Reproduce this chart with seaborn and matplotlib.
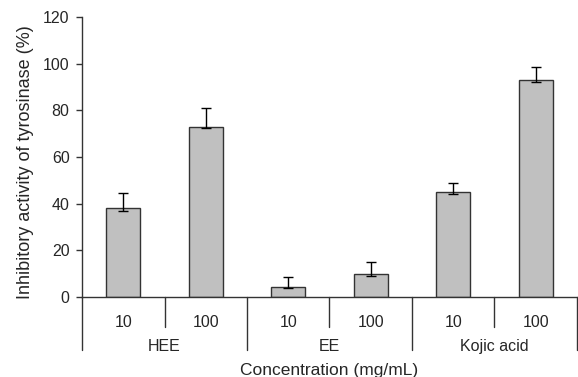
import numpy as np
import pandas as pd
import seaborn as sns
import matplotlib.pyplot as plt
import matplotlib.transforms as mtransforms

groups = ["HEE", "EE", "Kojic acid"]
concentrations = ["10", "100"]
inhibition = [38.0, 73.0, 4.5, 10.0, 45.2, 93.0]
err_upper = [6.6, 8.0, 4.2, 5.2, 3.8, 5.4]
err_lower = [1.1, 0.7, 0.8, 1.0, 1.0, 1.0]

sns.set_theme(style="white")
plt.rcParams['font.family'] = ['Liberation Sans', 'DejaVu Sans']

labels = [f"{g}_{c}" for g in groups for c in concentrations]
df = pd.DataFrame({"label": labels, "value": inhibition})

fig = plt.figure(figsize=(5.78, 3.77), dpi=100)
ax = fig.add_axes([0.142, 0.212, 0.856, 0.743])

line_col = "#333333"
sns.barplot(data=df, x="label", y="value", ax=ax, color="#c0c0c0",
            saturation=1, width=0.41, edgecolor=line_col, linewidth=1)
ax.errorbar(np.arange(len(inhibition)), inhibition,
            yerr=[err_lower, err_upper], fmt="none", ecolor="black",
            elinewidth=1, capsize=3.5, capthick=1)

ax.set_xlim(-0.5, 5.5)
ax.set_ylim(0, 120)
ax.set_yticks(range(0, 121, 20))
ax.tick_params(axis="y", direction="out", length=4, width=1, color=line_col,
               labelsize=11.5, pad=5, left=True)
ax.set_xticks([])
ax.set_xlabel("")
ax.set_ylabel("Inhibitory activity of tyrosinase (%)", fontsize=13)
ax.yaxis.set_label_coords(-0.097, 0.48)
for s in ["top", "right"]:
    ax.spines[s].set_visible(False)
for s in ["left", "bottom"]:
    ax.spines[s].set_color(line_col)
    ax.spines[s].set_linewidth(1)

trans = mtransforms.blended_transform_factory(ax.transData, ax.transAxes)
# separators under the axis
for xpos in [0.5, 2.5, 4.5]:
    ax.plot([xpos, xpos], [0, -0.107], transform=trans, color=line_col,
            lw=1, clip_on=False)
for xpos in [-0.5, 1.5, 3.5, 5.5]:
    ax.plot([xpos, xpos], [0, -0.19], transform=trans, color=line_col,
            lw=1, clip_on=False)

for i, lab in enumerate(labels):
    ax.text(i, -0.089, lab.split("_")[1], transform=trans, ha="center",
            va="center", fontsize=11.5)
for j, g in enumerate(groups):
    ax.text(2 * j + 0.5, -0.175, g, transform=trans, ha="center",
            va="center", fontsize=11.5)
ax.text(2.5, -0.237, "Concentration (mg/mL)", transform=trans, ha="center",
        va="top", fontsize=12.5)

fig.savefig("out.png", dpi=100)
